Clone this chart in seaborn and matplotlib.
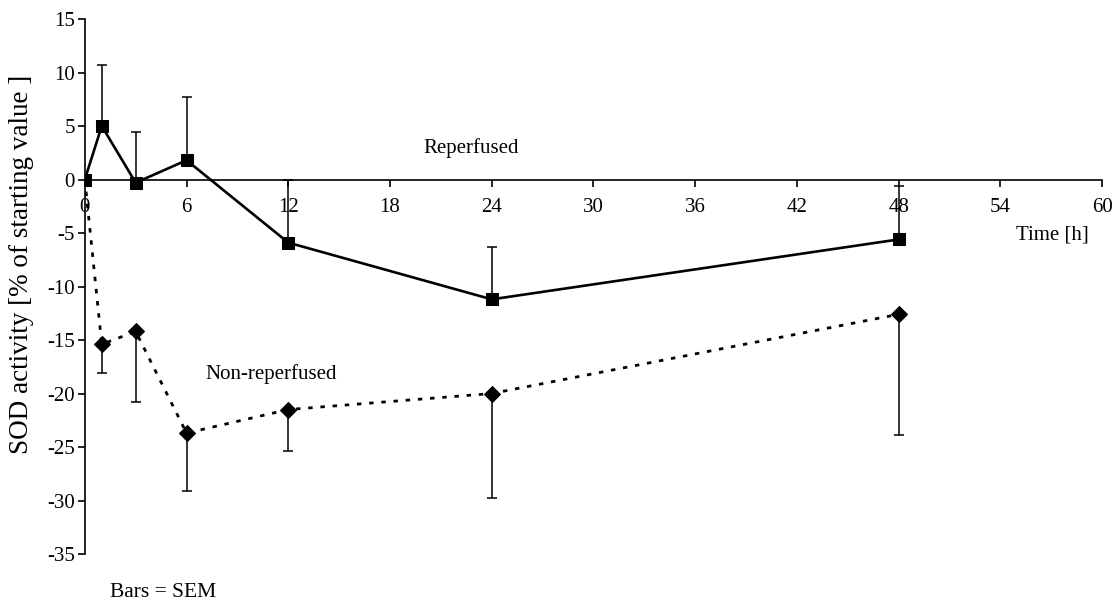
import numpy as np
import pandas as pd
import seaborn as sns
import matplotlib.pyplot as plt

# Time points (h)
hours = [0, 1, 3, 6, 12, 24, 48]

# Reperfused group: mean and upper SEM cap
rep_mean = [0.0, 5.0, -0.3, 1.8, -5.9, -11.2, -5.6]
rep_top = [0.0, 10.7, 4.4, 7.7, 0.0, -6.3, -0.6]

# Non-reperfused group: mean and lower SEM cap
non_mean = [0.0, -15.4, -14.2, -23.7, -21.5, -20.0, -12.6]
non_bottom = [0.0, -18.1, -20.8, -29.1, -25.4, -29.75, -23.9]

x_ticks = [0, 6, 12, 18, 24, 30, 36, 42, 48, 54, 60]
y_ticks = [15, 10, 5, 0, -5, -10, -15, -20, -25, -30, -35]

sns.set_style("white")
plt.rcParams['font.family'] = ['Liberation Serif', 'DejaVu Serif']
plt.rcParams['axes.unicode_minus'] = False
plt.rcParams['text.color'] = 'black'
plt.rcParams['axes.labelcolor'] = 'black'

df = pd.DataFrame({
    'hours': hours * 2,
    'value': rep_mean + non_mean,
    'group': ['Reperfused'] * len(hours) + ['Non-reperfused'] * len(hours),
})

fig = plt.figure(figsize=(11.16, 6.07), dpi=100)
ax = fig.add_axes([0.076, 0.0873, 0.9115, 0.8814])

# One-sided SEM bars
rep_err = np.array(rep_top) - np.array(rep_mean)
non_err = np.array(non_mean) - np.array(non_bottom)
zeros = np.zeros(len(hours) - 1)
ax.errorbar(hours[1:], rep_mean[1:], yerr=[zeros, rep_err[1:]],
            fmt='none', ecolor='black', elinewidth=1.1, capsize=3.5, capthick=1.1, zorder=2)
ax.errorbar(hours[1:], non_mean[1:], yerr=[non_err[1:], zeros],
            fmt='none', ecolor='black', elinewidth=1.1, capsize=3.5, capthick=1.1, zorder=2)

rep = df[df['group'] == 'Reperfused']
non = df[df['group'] == 'Non-reperfused']
sns.lineplot(data=rep, x='hours', y='value', ax=ax, color='black', linewidth=1.9,
             marker='s', markersize=8.5, markeredgecolor='black', zorder=3)
sns.lineplot(data=non, x='hours', y='value', ax=ax, color='black', linewidth=2.0,
             linestyle=(0, (1.6, 2.8)), marker='D', markersize=8.5, markeredgecolor='black',
             markevery=list(range(1, len(hours))), zorder=3)

ax.set_xlim(0, 60)
ax.set_ylim(-35, 15)
ax.set_xticks(x_ticks)
ax.set_yticks(y_ticks)
ax.spines['bottom'].set_position(('data', 0))
ax.spines['left'].set_position(('data', 0))
ax.spines['top'].set_visible(False)
ax.spines['right'].set_visible(False)
for s in ['bottom', 'left']:
    ax.spines[s].set_color('black')
    ax.spines[s].set_linewidth(1.2)
ax.tick_params(axis='both', bottom=True, left=True, direction='out', length=5, width=1.2,
               colors='black', labelsize=15)
ax.tick_params(axis='x', pad=8)
ax.tick_params(axis='y', pad=2)
ax.set_xlabel('')
ax.set_ylabel('')
fig.text(22 / 1116, 1 - 264.5 / 607, 'SOD activity [% of starting value ]', fontsize=19.5,
         rotation=90, ha='center', va='center')

ax.text(22.8, 2.95, 'Reperfused', fontsize=15, ha='center', va='center')
ax.text(11.0, -18.2, 'Non-reperfused', fontsize=15, ha='center', va='center')
ax.text(59.2, -5.15, 'Time [h]', fontsize=15, ha='right', va='center')
ax.text(4.6, -38.6, 'Bars = SEM', fontsize=15.5, ha='center', va='center', clip_on=False)

plt.savefig('out.png', dpi=100)
